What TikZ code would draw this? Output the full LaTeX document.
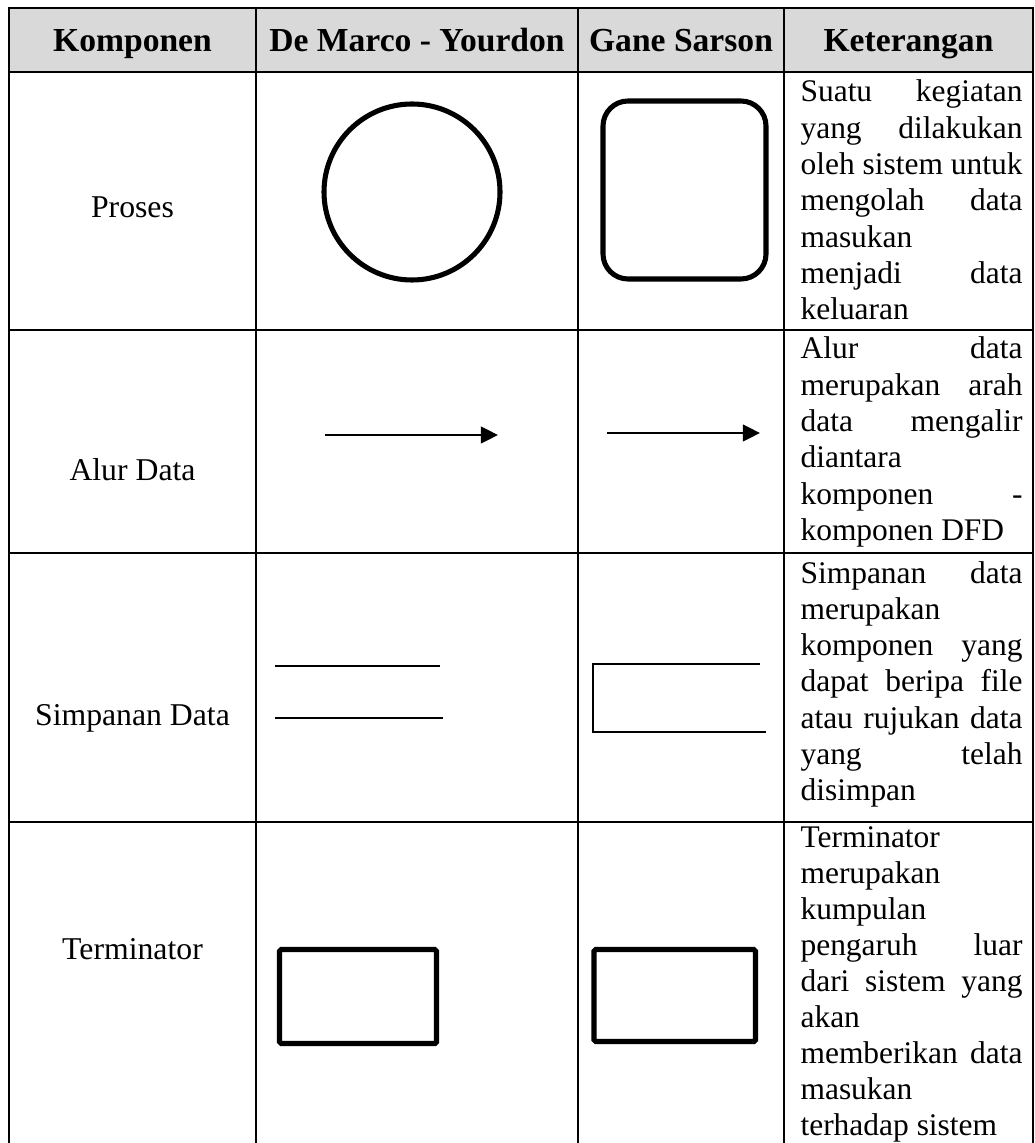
\documentclass[tikz,border=0pt]{standalone}
\usepackage{fontspec}
\setmainfont{Liberation Serif}
\usetikzlibrary{arrows.meta}
\definecolor{headgray}{HTML}{D9D9D9}
\newlength{\ketw}
\setlength{\ketw}{83.25pt}
% a justified line of the description column
\newcommand{\jl}[1]{\makebox[\ketw][s]{#1}}

\begin{document}
\begin{tikzpicture}[x=0.375pt,y=-0.375pt,
  grid/.style={line width=1.1pt},
  head/.style={anchor=base,inner sep=0pt,font=\fontsize{12.6pt}{14pt}\selectfont\bfseries},
  lbl/.style={anchor=base,inner sep=0pt,font=\fontsize{11.9pt}{13.6pt}\selectfont},
  ket/.style={anchor=base west,inner sep=0pt,font=\fontsize{11.8pt}{13.6pt}\selectfont},
  heavy/.style={line width=1.9pt},
  flow/.style={line width=0.95pt,-{Triangle[length=6.4pt,width=6.2pt]}},
  store/.style={line width=0.75pt}]

\useasboundingbox (0,0) rectangle (1035,1143);

% header band
\fill[headgray] (9,8) rectangle (1033,72);

% table rules
\draw[grid] (9,1143) -- (9,8) -- (1033,8) -- (1033,1143);
\foreach \yy in {72,330,553,822} \draw[grid] (9,\yy) -- (1033,\yy);
\foreach \xx in {256,578,784} \draw[grid] (\xx,8) -- (\xx,1143);

% header texts
\node[head] (h1) at (132.5,52) {Komponen};
\node[head] (h2) at (417,52) {De Marco - Yourdon};
\node[head] (h3) at (681,52) {Gane Sarson};
\node[head] (h4) at (908.5,52) {Keterangan};

% component names
\node[lbl] (k1) at (132.5,218) {Proses};
\node[lbl] (k2) at (132.5,480) {Alur Data};
\node[lbl] (k3) at (132.5,725) {Simpanan Data};
\node[lbl] (k4) at (132.5,959) {Terminator};

% process
\draw[heavy] (412,192) circle[radius=88];
\draw[heavy,rounded corners=9.4pt] (603,101) rectangle (766,279);

% data flow
\coordinate (dmA) at (325,435);
\coordinate (dmB) at (498,435);
\coordinate (gsA) at (607,433);
\coordinate (gsB) at (760,433);
\draw[flow] (dmA) -- (dmB);
\draw[flow] (gsA) -- (gsB);

% data store
\draw[store] (275,666) -- (440,666);
\draw[store] (275,718) -- (443,718);
\draw[store] (760,664) -- (593,664) -- (593,732) -- (766,732);

% terminator
\draw[heavy,rounded corners=0.6pt] (279.5,949.5) rectangle (436.5,1043.5);
\draw[heavy,rounded corners=0.6pt] (594,949.5) rectangle (755.5,1041.5);

% descriptions
\foreach \t [count=\i] in {{\jl{Suatu kegiatan}},{\jl{yang dilakukan}},{\jl{oleh sistem untuk}},{\jl{mengolah data}},{masukan},{\jl{menjadi data}},{keluaran}}
  \node[ket] (ka\i) at (800,{102+36.3*(\i-1)}) {\t};
\foreach \t [count=\i] in {{\jl{Alur data}},{\jl{merupakan arah}},{\jl{data mengalir}},{diantara},{\jl{komponen -}},{komponen DFD}}
  \node[ket] (kb\i) at (800,{359+36.3*(\i-1)}) {\t};
\foreach \t [count=\i] in {{\jl{Simpanan data}},{merupakan},{\jl{komponen yang}},{\jl{dapat beripa file}},{\jl{atau rujukan data}},{\jl{yang telah}},{disimpan}}
  \node[ket] (kc\i) at (800,{583+36.3*(\i-1)}) {\t};
\foreach \t [count=\i] in {{Terminator},{merupakan},{kumpulan},{\jl{pengaruh luar}},{\jl{dari sistem yang}},{akan},{\jl{memberikan data}},{masukan},{terhadap sistem}}
  \node[ket] (kd\i) at (800,{847+36*(\i-1)}) {\t};
\end{tikzpicture}
\end{document}
